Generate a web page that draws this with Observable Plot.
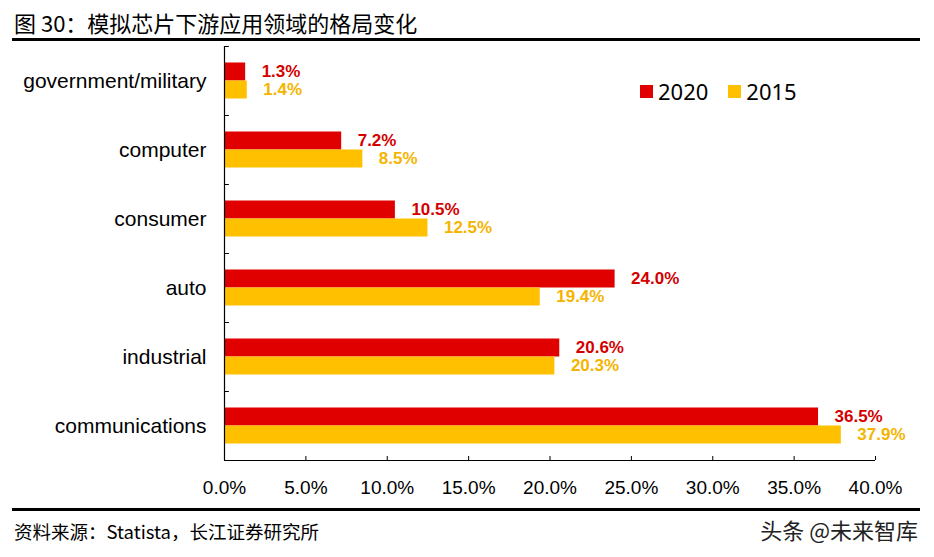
<!DOCTYPE html>
<html>
<head>
<meta charset="utf-8">
<script src="https://cdn.jsdelivr.net/npm/d3@7"></script>
<script src="https://cdn.jsdelivr.net/npm/@observablehq/plot@0.6"></script>
<style>
  html, body { margin: 0; padding: 0; background: #fff; }
  #page { position: relative; width: 934px; height: 557px; overflow: hidden; background: #fff; }
  #title { position: absolute; left: 14px; top: 6px; font: 22px "Noto Sans CJK SC", sans-serif; color: #000; white-space: nowrap; }
  .hline { position: absolute; left: 12px; width: 908px; height: 3px; background: #000; }
  #chart { position: absolute; left: 0; top: 42px; }
  #legend { position: absolute; left: 640px; top: 76px; display: flex; align-items: center; font: 22px "Noto Sans", "DejaVu Sans", sans-serif; color: #000; }
  #legend .sw { width: 13px; height: 13px; display: inline-block; margin-right: 5px; }
  #legend .item { display: flex; align-items: center; margin-right: 20px; }
  #source { position: absolute; left: 14px; top: 518px; font: 18.5px "Noto Sans CJK SC", sans-serif; color: #000; white-space: nowrap; }
  #mark { position: absolute; right: 16px; top: 513px; font: 22px "Noto Sans CJK SC", sans-serif; color: #222; white-space: nowrap; }
</style>
</head>
<body>
<div id="page">
  <div id="title">图 30：模拟芯片下游应用领域的格局变化</div>
  <div class="hline" style="top:38px"></div>
  <div id="chart"></div>
  <div id="legend"></div>
  <div class="hline" style="top:508px"></div>
  <div id="source">资料来源：Statista，长江证券研究所</div>
  <div id="mark">头条 @未来智库</div>
</div>
<script>
const categories = ["government/military", "computer", "consumer", "auto", "industrial", "communications"];
const values2020 = [1.3, 7.2, 10.5, 24.0, 20.6, 36.5];
const values2015 = [1.4, 8.5, 12.5, 19.4, 20.3, 37.9];
const years = ["2020", "2015"];
const xTicks = [0, 5, 10, 15, 20, 25, 30, 35, 40];
const colors = {"2020": "#E00000", "2015": "#FFC000"};
const labelColors = {"2020": "#D40000", "2015": "#F5B400"};

const rows2020 = categories.map((c, i) => ({category: c, year: "2020", value: values2020[i]}));
const rows2015 = categories.map((c, i) => ({category: c, year: "2015", value: values2015[i]}));

const W = 934, H = 470, mt = 4, mb = 52;
const step = (H - mt - mb) / categories.length;
const barH = 18;

const chart = Plot.plot({
  width: W,
  height: H,
  marginLeft: 224,
  marginRight: 59,
  marginTop: mt,
  marginBottom: mb,
  style: {fontFamily: "'Liberation Sans', Arial, sans-serif", fontSize: "19px", color: "#000", background: "transparent"},
  x: {domain: [0, 40], label: null},
  y: {domain: categories, padding: 0, label: null},
  marks: [
    Plot.barX(rows2020, {x: "value", y: "category", fill: colors["2020"], insetTop: step / 2 - barH, insetBottom: step / 2}),
    Plot.barX(rows2015, {x: "value", y: "category", fill: colors["2015"], insetTop: step / 2, insetBottom: step / 2 - barH}),
    Plot.text(rows2020, {x: "value", y: "category", text: d => d.value.toFixed(1) + "%", dx: 16, dy: -9, textAnchor: "start", fill: labelColors["2020"], fontWeight: "bold", fontSize: 17}),
    Plot.text(rows2015, {x: "value", y: "category", text: d => d.value.toFixed(1) + "%", dx: 16, dy: 9, textAnchor: "start", fill: labelColors["2015"], fontWeight: "bold", fontSize: 17}),
    Plot.ruleX([0], {stroke: "#000", strokeWidth: 1.2}),
    Plot.ruleY([categories[categories.length - 1]], {y: d => d, dy: step / 2, stroke: "#000", strokeWidth: 1.2}),
    Plot.ruleY(categories, {y: d => d, dy: step / 2, x1: 0, x2: 0.3, stroke: "#000"}),
    Plot.ruleY([categories[0]], {y: d => d, dy: -step / 2, x1: 0, x2: 0.3, stroke: "#000"}),
    Plot.tickX(xTicks, {x: d => d, y: () => categories[categories.length - 1], insetTop: step - 4, stroke: "#000"}),
    Plot.axisY({tickSize: 0, tickPadding: 18, fontSize: 21, label: null}),
    Plot.axisX({ticks: xTicks, tickFormat: d => d.toFixed(1) + "%", tickSize: 0, tickPadding: 20, fontSize: 19, label: null})
  ]
});
document.getElementById("chart").appendChild(chart);

const legend = document.getElementById("legend");
years.forEach(y => {
  const item = document.createElement("div");
  item.className = "item";
  const sw = document.createElement("span");
  sw.className = "sw";
  sw.style.background = colors[y];
  const t = document.createElement("span");
  t.textContent = y;
  item.appendChild(sw);
  item.appendChild(t);
  legend.appendChild(item);
});
</script>
</body>
</html>
